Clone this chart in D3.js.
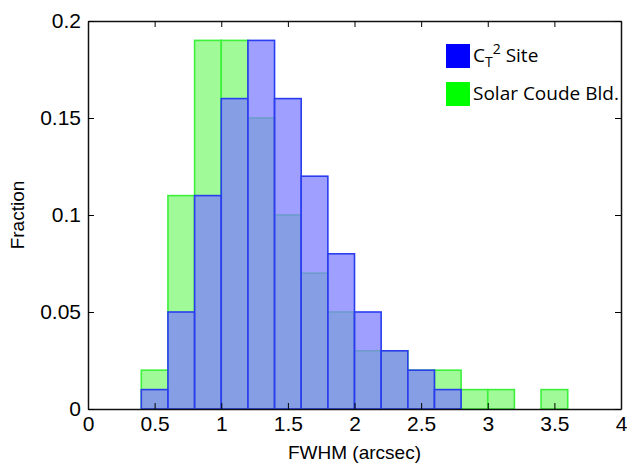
<!DOCTYPE html>
<html>
<head>
<meta charset="utf-8">
<script src="https://cdn.jsdelivr.net/npm/d3@7"></script>
<style>
  body { margin: 0; background: #fff; }
  svg { display: block; font-family: "Liberation Sans", Arial, sans-serif; }
</style>
</head>
<body>
<svg width="627" height="465"></svg>
<script>
// histogram bins, left edges (width 0.2)
var binStarts = [0.4, 0.6, 0.8, 1.0, 1.2, 1.4, 1.6, 1.8, 2.0, 2.2, 2.4, 2.6, 2.8, 3.0, 3.2, 3.4]
var ct2Site = [0.01, 0.05, 0.11, 0.16, 0.19, 0.16, 0.12, 0.08, 0.05, 0.03, 0.02, 0.01, 0, 0, 0, 0]
var solarCoude = [0.02, 0.11, 0.19, 0.19, 0.15, 0.10, 0.07, 0.05, 0.03, 0.03, 0.02, 0.02, 0.01, 0.01, 0, 0.01]
var xTicks = [0, 0.5, 1, 1.5, 2, 2.5, 3, 3.5, 4]
var yTicks = [0, 0.05, 0.1, 0.15, 0.2]
var binWidth = 0.2

var margin = { top: 21, right: 6, bottom: 56, left: 88 }
var width = 627
var height = 465

var x = d3.scaleLinear().domain([0, 4]).range([margin.left, width - margin.right])
var y = d3.scaleLinear().domain([0, 0.2]).range([height - margin.bottom, margin.top])

var svg = d3.select('svg')

var series = [
  { name: 'solar', values: solarCoude, fill: 'rgb(150,250,140)', opacity: 0.9, stroke: '#3cf03c' },
  { name: 'ct2', values: ct2Site, fill: 'rgb(126,126,255)', opacity: 0.74, stroke: '#2a3ef0' }
]

series.forEach(function(s) {
  svg
    .append('g')
    .selectAll('rect')
    .data(binStarts.map((b, i) => ({ x0: b, v: s.values[i] })).filter(d => d.v > 0))
    .enter()
    .append('rect')
    .attr('x', d => x(d.x0))
    .attr('y', d => y(d.v))
    .attr('width', d => x(d.x0 + binWidth) - x(d.x0))
    .attr('height', d => y(0) - y(d.v))
    .attr('fill', s.fill)
    .attr('fill-opacity', s.opacity)
    .attr('stroke', s.stroke)
    .attr('stroke-width', 1.6)
})

// frame with inward ticks on all sides
var tickLen = 6
svg
  .append('g')
  .attr('transform', `translate(0,${y(0)})`)
  .call(d3.axisBottom(x).tickValues(xTicks).tickFormat(d3.format('')).tickSizeInner(-tickLen).tickSizeOuter(0).tickPadding(7))
  .call(g => g.select('.domain').attr('stroke', '#111').attr('stroke-width', 1.5))
  .call(g => g.selectAll('text').attr('font-size', 21).attr('fill', '#000'))

svg
  .append('g')
  .attr('transform', `translate(0,${y(0.2)})`)
  .call(d3.axisTop(x).tickValues(xTicks).tickFormat('').tickSizeInner(-tickLen).tickSizeOuter(0))
  .call(g => g.select('.domain').attr('stroke', '#111').attr('stroke-width', 1.5))

svg
  .append('g')
  .attr('transform', `translate(${x(0)},0)`)
  .call(d3.axisLeft(y).tickValues(yTicks).tickFormat(d3.format('')).tickSizeInner(-tickLen).tickSizeOuter(0).tickPadding(7))
  .call(g => g.select('.domain').attr('stroke', '#111').attr('stroke-width', 1.5))
  .call(g => g.selectAll('text').attr('font-size', 21).attr('fill', '#000'))

svg
  .append('g')
  .attr('transform', `translate(${x(4)},0)`)
  .call(d3.axisRight(y).tickValues(yTicks).tickFormat('').tickSizeInner(-tickLen).tickSizeOuter(0))
  .call(g => g.select('.domain').attr('stroke', '#111').attr('stroke-width', 1.5))

// axis titles
svg
  .append('text')
  .attr('x', (x(0) + x(4)) / 2)
  .attr('y', 459)
  .attr('text-anchor', 'middle')
  .attr('font-size', 19)
  .text('FWHM (arcsec)')

svg
  .append('text')
  .attr('transform', `translate(24,${(y(0) + y(0.2)) / 2}) rotate(-90)`)
  .attr('text-anchor', 'middle')
  .attr('font-size', 19)
  .text('Fraction')

// legend
var legend = svg.append('g').attr('font-family', '"Open Sans", sans-serif').attr('font-size', 19)
var legendItems = [
  { label: 'CT', color: '#0000ff' },
  { label: 'Solar Coude Bld.', color: '#00ff00' }
]
legendItems.forEach(function(d, i) {
  var g = legend.append('g').attr('transform', `translate(446,${44 + i * 38})`)
  g.append('rect').attr('width', 24).attr('height', 24).attr('fill', d.color)
  var t = g.append('text').attr('x', 27).attr('y', 18)
  if (i === 0) {
    t.append('tspan').text('C')
    t.append('tspan').attr('font-size', 14).attr('dy', 5).text('T')
    t.append('tspan').attr('font-size', 14).attr('dy', -13).text('2')
    t.append('tspan').attr('dy', 8).text(' Site')
  } else {
    t.text(d.label)
  }
})
</script>
</body>
</html>
